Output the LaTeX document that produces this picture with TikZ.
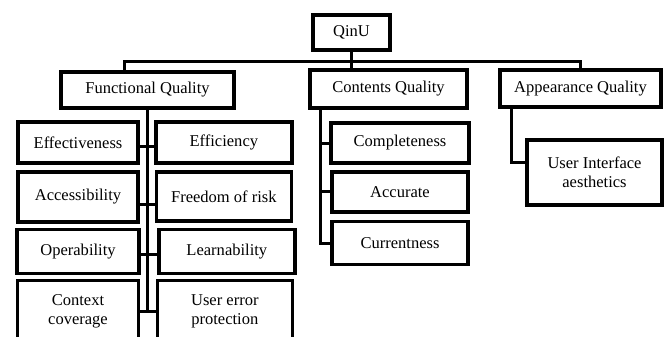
\documentclass[tikz,border=0pt]{standalone}
\usepackage{fontspec}
\setmainfont{Liberation Serif}
\usetikzlibrary{positioning}

\begin{document}
\begin{tikzpicture}[node distance=0.11cm, every node/.style={font=\fontsize{9.4}{11}\selectfont},
    qbox/.style={rectangle, draw, line width=1.9pt, align=center, inner sep=2pt},
    link/.style={line width=1.7pt}]
    \useasboundingbox (0,0) rectangle (13.32,-6.72);
    \clip (0,0) rectangle (13.32,-6.72);
    % Define nodes
    \node[qbox, minimum width=1.54cm, minimum height=0.70cm](qinu) at (7.03,-0.65){QinU};
    \node[qbox, minimum width=3.46cm, minimum height=0.72cm](func) at (2.95,-1.80){Functional Quality};
    \node[qbox, minimum width=3.14cm, minimum height=0.76cm](cont) at (7.77,-1.78){Contents Quality};
    \node[qbox, minimum width=3.22cm, minimum height=0.74cm](appr) at (11.61,-1.77){Appearance Quality};
    % functional quality children
    \node[qbox, minimum width=2.40cm, minimum height=0.82cm](effe) at (1.56,-2.85){Effectiveness};
    \node[qbox, minimum width=2.72cm, minimum height=0.82cm, right=0.29cm of effe](effi){Efficiency};
    \node[qbox, minimum width=2.40cm, minimum height=1.00cm, below=of effe](acce){Accessibility};
    \node[qbox, minimum width=2.70cm, minimum height=0.98cm, below=of effi](free){Freedom of risk};
    \node[qbox, minimum width=2.44cm, minimum height=0.88cm, below=0.09cm of acce](oper){Operability};
    \node[qbox, minimum width=2.72cm, minimum height=0.88cm, right=0.33cm of oper](lear){Learnability};
    \node[qbox, minimum width=2.42cm, minimum height=1.24cm, below=0.07cm of oper](ctx){Context\\coverage};
    \node[qbox, minimum width=2.70cm, minimum height=1.24cm, right=0.31cm of ctx](uep){User error\\protection};
    % contents quality children
    \node[qbox, minimum width=2.76cm, minimum height=0.80cm](comp) at (8.00,-2.86){Completeness};
    \node[qbox, minimum width=2.72cm, minimum height=0.80cm, below=of comp](accu){Accurate};
    \node[qbox, minimum width=2.72cm, minimum height=0.86cm, below=0.13cm of accu](curr){Currentness};
    % appearance quality child
    \node[qbox, minimum width=2.70cm, minimum height=1.30cm](ui) at (11.89,-3.45){User Interface\\aesthetics};
    % top level connections
    \draw[link] (qinu.south) -- ++(0,-0.2) coordinate (hub);
    \draw[link] (hub) -- (hub |- cont.north);
    \draw[link] ([xshift=1.3cm]func.north west) |- (hub) -| (appr.north);
    % functional quality tree
    \draw[link] (func.south) -- (func.south |- ctx.east);
    \foreach \l/\r/\s in {effe/effi/-0.07, acce/free/-0.16, oper/lear/-0.06, ctx/uep/0}
        \draw[link] ([yshift=\s cm]\l.east) -- ([yshift=\s cm]\l.east -| \r.west);
    % contents quality tree
    \coordinate (ctrunk) at ([xshift=0.24cm]cont.south west);
    \draw[link] (ctrunk) |- (curr.west);
    \foreach \n in {comp, accu}
        \draw[link] (ctrunk |- \n.west) -- (\n.west);
    % appearance quality tree
    \draw[link] ([xshift=0.26cm]appr.south west) |- ([yshift=0.2cm]ui.west);
\end{tikzpicture}
\end{document}
